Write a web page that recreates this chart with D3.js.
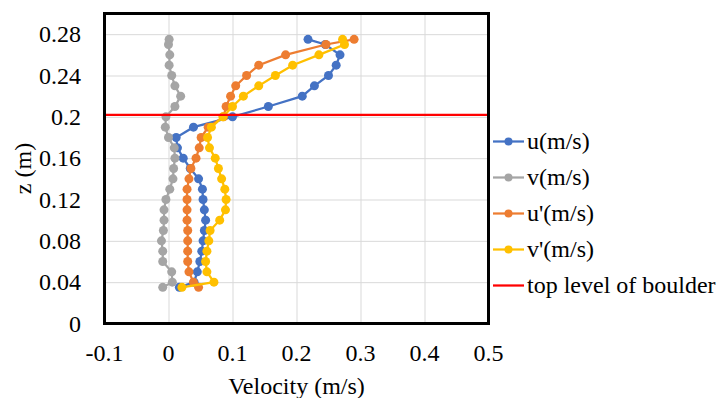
<!DOCTYPE html>
<html>
<head>
<meta charset="utf-8">
<script src="https://cdn.jsdelivr.net/npm/d3@7"></script>
<style>
  body { margin: 0; background: #fff; }
  svg text { font-family: "Liberation Serif", "Times New Roman", "DejaVu Serif", serif; }
  .grid line { stroke: #d9d9d9; stroke-width: 1; }
  .grid path { display: none; }
  .tick-label { font-size: 24px; fill: #000; }
  .axis-title { font-size: 24px; fill: #000; }
  .legend { font-size: 24px; fill: #000; }
</style>
</head>
<body>
<script>
// heights (m) of the measurement points, bottom to top
const zLevels = [0.035, 0.04, 0.05, 0.06, 0.07, 0.08, 0.09, 0.10, 0.11, 0.12, 0.13, 0.14, 0.15,
                 0.16, 0.17, 0.18, 0.19, 0.20, 0.21, 0.22, 0.23, 0.24, 0.25, 0.26, 0.27, 0.275];

const uVals = [0.017, 0.040, 0.045, 0.049, 0.052, 0.054, 0.056, 0.058, 0.056, 0.054, 0.053, 0.047, 0.034,
               0.023, 0.014, 0.012, 0.039, 0.100, 0.156, 0.209, 0.228, 0.250, 0.262, 0.268, 0.245, 0.218];
const vVals = [-0.009, 0.006, 0.005, -0.009, -0.009, -0.011, -0.008, -0.007, -0.007, -0.004, 0.002, 0.007, 0.008,
               0.010, 0.009, 0.000, -0.005, -0.004, 0.010, 0.019, 0.010, 0.005, 0.001, 0.002, 0.000, 0.001];
const uPrimeVals = [0.047, 0.039, 0.032, 0.030, 0.030, 0.030, 0.030, 0.029, 0.029, 0.029, 0.029, 0.032, 0.035,
                    0.043, 0.048, 0.051, 0.062, 0.086, 0.090, 0.097, 0.105, 0.122, 0.141, 0.183, 0.246, 0.290];
const vPrimeVals = [0.021, 0.071, 0.060, 0.058, 0.060, 0.063, 0.065, 0.080, 0.089, 0.090, 0.088, 0.083, 0.078,
                    0.073, 0.064, 0.061, 0.067, 0.085, 0.100, 0.117, 0.141, 0.167, 0.194, 0.235, 0.275, 0.272];

const boulderTop = 0.202;

const xTicks = [-0.1, 0, 0.1, 0.2, 0.3, 0.4, 0.5];
const yTicks = [0, 0.04, 0.08, 0.12, 0.16, 0.2, 0.24, 0.28];

const seriesNames = ['u(m/s)', 'v(m/s)', "u'(m/s)", "v'(m/s)"];
const seriesColors = ['#4472C4', '#A5A5A5', '#ED7D31', '#FFC000'];
const seriesValues = [uVals, vVals, uPrimeVals, vPrimeVals];

const SCREEN = {
    width: 727,
    height: 398,
    left: 104.5,
    right: 488.5,
    top: 13.5,
    bottom: 323.5
};

const FONT = '"Liberation Serif", "Times New Roman", "DejaVu Serif", serif';

const svg = d3.select('body').append('svg')
    .attr('width', SCREEN.width)
    .attr('height', SCREEN.height);

const x = d3.scaleLinear().domain([-0.1, 0.5]).range([SCREEN.left, SCREEN.right]);
const y = d3.scaleLinear().domain([0, 0.3]).range([SCREEN.bottom, SCREEN.top]);

// gridlines
svg.append('g')
    .attr('class', 'grid')
    .attr('transform', `translate(0,${SCREEN.bottom})`)
    .call(d3.axisBottom(x).tickValues(xTicks).tickSize(-(SCREEN.bottom - SCREEN.top)).tickFormat(''));
svg.append('g')
    .attr('class', 'grid')
    .attr('transform', `translate(${SCREEN.left},0)`)
    .call(d3.axisLeft(y).tickValues(yTicks).tickSize(-(SCREEN.right - SCREEN.left)).tickFormat(''));

// tick labels (plain hyphen for negatives, like the original)
svg.append('g').selectAll('text')
    .data(xTicks)
    .join('text')
    .attr('class', 'tick-label')
    .attr('font-family', FONT)
    .attr('x', d => x(d))
    .attr('y', 361)
    .attr('text-anchor', 'middle')
    .text(d => String(+d.toFixed(2)));

svg.append('g').selectAll('text')
    .data(yTicks)
    .join('text')
    .attr('class', 'tick-label')
    .attr('font-family', FONT)
    .attr('x', 81)
    .attr('y', d => y(d))
    .attr('dy', '0.34em')
    .attr('text-anchor', 'end')
    .text(d => String(+d.toFixed(2)));

// axis titles
svg.append('text')
    .attr('class', 'axis-title')
    .attr('font-family', FONT)
    .attr('x', (SCREEN.left + SCREEN.right) / 2)
    .attr('y', 394)
    .attr('text-anchor', 'middle')
    .text('Velocity (m/s)');

svg.append('text')
    .attr('class', 'axis-title')
    .attr('font-family', FONT)
    .attr('transform', `translate(31,${(SCREEN.top + SCREEN.bottom) / 2}) rotate(-90)`)
    .attr('text-anchor', 'middle')
    .text('z (m)');

// series
const line = d3.line()
    .x(d => x(d[0]))
    .y(d => y(d[1]));

seriesValues.forEach((vals, i) => {
    const pts = vals.map((v, k) => [v, zLevels[k]]);
    const g = svg.append('g');
    g.append('path')
        .datum(pts)
        .attr('fill', 'none')
        .attr('stroke', seriesColors[i])
        .attr('stroke-width', 2.25)
        .attr('d', line);
    g.selectAll('circle')
        .data(pts)
        .join('circle')
        .attr('cx', d => x(d[0]))
        .attr('cy', d => y(d[1]))
        .attr('r', 4.5)
        .attr('fill', seriesColors[i]);
});

// top of boulder
svg.append('line')
    .attr('x1', x(-0.1))
    .attr('x2', x(0.5))
    .attr('y1', y(boulderTop))
    .attr('y2', y(boulderTop))
    .attr('stroke', '#FF0000')
    .attr('stroke-width', 2.25);

// plot area border
svg.append('rect')
    .attr('x', SCREEN.left)
    .attr('y', SCREEN.top)
    .attr('width', SCREEN.right - SCREEN.left)
    .attr('height', SCREEN.bottom - SCREEN.top)
    .attr('fill', 'none')
    .attr('stroke', '#000')
    .attr('stroke-width', 3);

// legend
const legendNames = seriesNames.concat(['top level of boulder']);
const legendColors = seriesColors.concat(['#FF0000']);
const legend = svg.append('g');
legendNames.forEach((name, i) => {
    const ly = 141.5 + i * 36;
    legend.append('line')
        .attr('x1', 493).attr('x2', 524)
        .attr('y1', ly).attr('y2', ly)
        .attr('stroke', legendColors[i])
        .attr('stroke-width', 2.25);
    if (i < seriesNames.length) {
        legend.append('circle')
            .attr('cx', 508.5).attr('cy', ly)
            .attr('r', 4)
            .attr('fill', legendColors[i]);
    }
    legend.append('text')
        .attr('class', 'legend')
        .attr('font-family', FONT)
        .attr('x', 527)
        .attr('y', ly)
        .attr('dy', '0.33em')
        .text(name);
});
</script>
</body>
</html>
